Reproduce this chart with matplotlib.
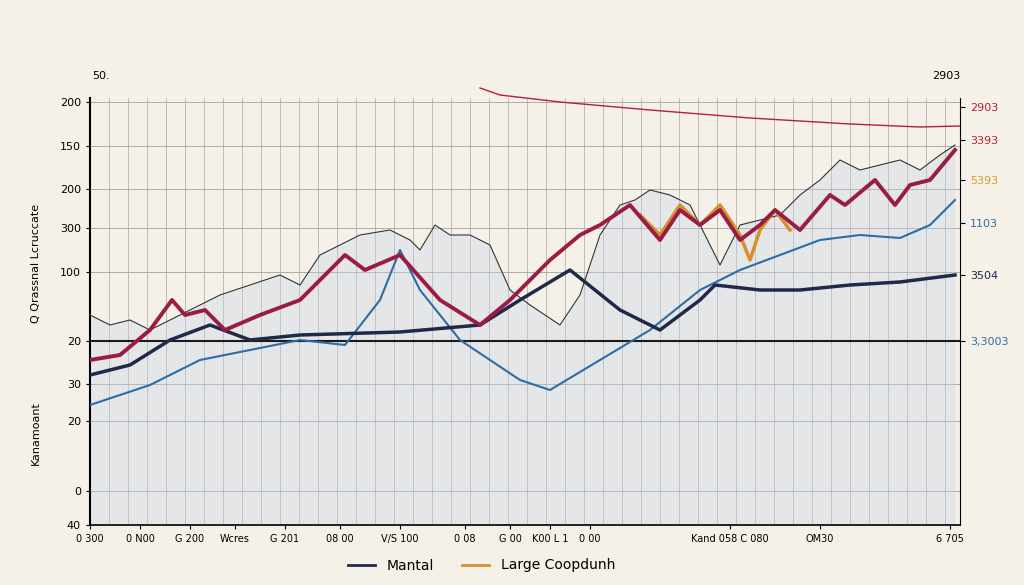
import matplotlib
matplotlib.use("Agg")
import matplotlib.pyplot as plt
import numpy as np

# values: x position (0-870 scale), y value (0-427 scale)
crimson_x = [0,30,60,82,95,115,135,170,210,255,275,310,350,390,420,460,490,510,540,570,590,610,630,650,670,685,710,740,755,785,805,820,840,865]
crimson_y = [165,170,195,225,210,215,195,210,225,270,255,270,225,200,225,265,290,300,320,285,315,300,315,285,300,315,295,330,320,345,320,340,345,375]
orange_x = [550,570,590,610,630,650,660,670,685,700]
orange_y = [310,290,320,300,320,290,265,295,315,295]
navy_x = [0,40,80,120,160,210,310,390,430,480,530,570,610,625,670,710,760,810,865]
navy_y = [150,160,185,200,185,190,193,200,225,255,215,195,225,240,235,235,240,243,250]
blue_x = [0,60,110,160,210,255,290,310,330,370,430,460,510,560,610,650,690,730,770,810,840,865]
blue_y = [120,140,165,175,185,180,225,275,235,185,145,135,165,195,235,255,270,285,290,287,300,325]
black_x = [0,20,40,60,80,100,130,160,190,210,230,250,270,300,320,330,345,360,380,400,420,440,470,490,510,530,545,560,580,600,630,650,670,690,710,730,750,770,790,810,830,850,865]
black_y = [210,200,205,195,205,215,230,240,250,240,270,280,290,295,285,275,300,290,290,280,235,220,200,230,290,320,325,335,330,320,260,300,305,310,330,345,365,355,360,365,355,370,380]
red_x = [390,410,470,560,660,760,830,870]
red_y = [437,430,423,415,407,401,398,399]
left_labels = ["200","150","200","300","100","20","30","20","0","40"]
left_pos = [423,379,336,297,253,184,141,104,34,0]
right_labels = ["2903","3393","5393","1103","3504","3,3003"]
right_pos = [418,385,345,302,250,184]
right_colors = ["#b22234","#b22234","#c9a227","#2e6da4","#1f2a4a","#2e6da4"]
bottom_labels = ["0 300","0 N00","G 200","Wcres","G 201","08 00","V/S 100","0 08","G 00","K00 L 1","0 00","Kand 058 C 080","OM30","6 705"]
bottom_pos = [0,50,100,145,195,250,310,375,420,460,500,640,730,860]

bg = "#f5f1e8"
fig = plt.figure(figsize=(10.24,5.85), dpi=100, facecolor=bg)
ax = fig.add_axes([90/1024, 60/585, 870/1024, 427/585], facecolor=bg)
ax.set_xlim(0,870); ax.set_ylim(0,427)
for x in np.arange(0,871,19):
    ax.axvline(x, color="#8a8a8a", lw=0.6, alpha=0.6, zorder=0)
for y in left_pos:
    ax.axhline(y, color="#a0a0a0", lw=0.6, zorder=0)
ax.axhline(184, color="#1a1a1a", lw=1.5, zorder=2)
bx = np.array(black_x); by = np.array(black_y)
ax.fill_between(bx, 0, by, color="#c5d3e8", alpha=0.35, lw=0, zorder=1)
ax.plot(black_x, black_y, color="#333333", lw=0.8, zorder=3)
ax.plot(blue_x, blue_y, color="#2e6da4", lw=1.5, zorder=4)
ax.plot(navy_x, navy_y, color="#1f2a4a", lw=2.5, zorder=5)
ax.plot(orange_x, orange_y, color="#d4902a", lw=2.5, zorder=5)
ax.plot(crimson_x, crimson_y, color="#9b1b45", lw=2.8, zorder=6)
ax.plot(red_x, red_y, color="#b22234", lw=1, zorder=4, clip_on=False)
ax.set_yticks(left_pos); ax.set_yticklabels(left_labels, fontsize=8)
ax.set_xticks(bottom_pos); ax.set_xticklabels(bottom_labels, fontsize=7)
ax.tick_params(length=3)
for s in ["top","right"]:
    ax.spines[s].set_visible(False)
ax.spines["left"].set_linewidth(1.5)
ax.spines["bottom"].set_linewidth(1.2)
ax2 = ax.twinx()
ax2.set_ylim(0,427)
ax2.set_yticks(right_pos); ax2.set_yticklabels(right_labels, fontsize=8)
for t,c in zip(ax2.get_yticklabels(), right_colors):
    t.set_color(c)
for s in ["top","left","bottom"]:
    ax2.spines[s].set_visible(False)
fig.text(0.03,0.55,"Q Qrassnal Lcruccate", rotation=90, fontsize=8, va="center")
fig.text(0.03,0.26,"Kanamoant", rotation=90, fontsize=8, va="center")
fig.text(0.09,0.865,"50.", fontsize=8)
fig.text(0.91,0.865,"2903", fontsize=8)
ax.plot([], [], color="#1f2a4a", lw=2, label="Mantal")
ax.plot([], [], color="#d4902a", lw=2, label="Large Coopdunh")
fig.legend(loc="lower center", ncol=2, frameon=False, fontsize=10, bbox_to_anchor=(0.47,0.0))
fig.savefig("out.png", dpi=100, facecolor=bg)
